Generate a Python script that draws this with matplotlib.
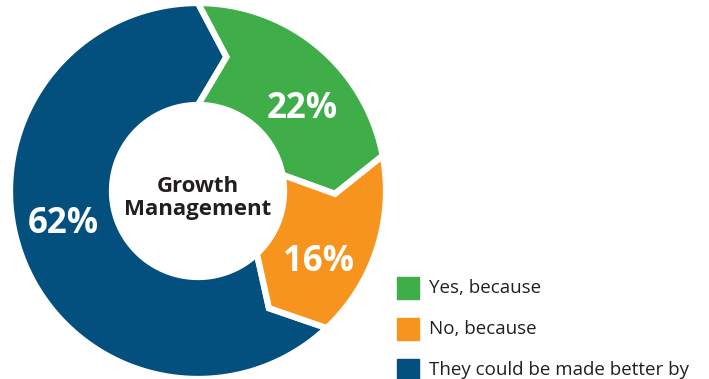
import numpy as np
import matplotlib.pyplot as plt
from matplotlib.patches import Polygon, Rectangle

# Survey answers, clockwise from the top
labels = ["Yes, because", "No, because", "They could be made better by"]
shares = [22, 16, 62]
colors = ["#3fae49", "#f7941d", "#03507f"]
centre_title = "Growth\nManagement"

W, H = 709, 379
fig = plt.figure(figsize=(W / 100, H / 100), dpi=100)
ax = fig.add_axes([0, 0, 1, 1])
ax.set_xlim(0, W)
ax.set_ylim(H, 0)
ax.set_aspect("equal")
ax.axis("off")

cx, cy = 198, 191
r_out, r_in = 188, 86
r_mid = 137
tip = np.radians(12)  # chevron depth of each segment edge


def pt(r, a):
    # angle measured clockwise from 12 o'clock, screen y pointing down
    return cx + r * np.sin(a), cy - r * np.cos(a)


def segment(a0, a1):
    outer = [pt(r_out, a) for a in np.linspace(a0, a1, 120)]
    inner = [pt(r_in, a) for a in np.linspace(a1, a0, 120)]
    return outer + [pt(r_mid, a1 + tip)] + inner + [pt(r_mid, a0 + tip)]


bounds = np.concatenate([[0], np.cumsum(shares)]) / 100 * 2 * np.pi
order = [2, 0, 1]
for i in order:
    ax.add_patch(Polygon(segment(bounds[i], bounds[i + 1]), closed=True,
                         facecolor=colors[i], edgecolor="white", linewidth=4.5,
                         joinstyle="miter"))

ax.add_patch(plt.Circle((cx, cy), r_in - 1, color="white", zorder=3))

font = "Open Sans"
for i, v in enumerate(shares):
    a = (bounds[i] + bounds[i + 1]) / 2 + 0.85 * tip
    x, y = pt(r_mid, a)
    ax.text(x, y + 6, f"{v}%", color="white", fontsize=25, fontweight="bold",
            family=font, ha="center", va="center", zorder=4)

ax.text(cx, cy + 7, centre_title, color="#231f20", fontsize=16,
        fontweight="bold", family=font, ha="center", va="center",
        linespacing=1.15, zorder=4)

# legend
for i, lab in enumerate(labels):
    y = 288 + i * 41
    ax.add_patch(Rectangle((397, y - 11), 22, 22, color=colors[i]))
    ax.text(429, y, lab, color="#231f20", fontsize=13.5, family=font,
            ha="left", va="center")

fig.savefig("out.png", dpi=100)
